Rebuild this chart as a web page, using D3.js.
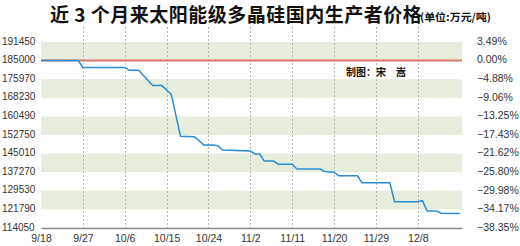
<!DOCTYPE html>
<html>
<head>
<meta charset="utf-8">
<script src="https://cdn.jsdelivr.net/npm/d3@7"></script>
<style>
  body { margin: 0; background: #fff; }
  svg text { font-family: "Liberation Sans", Arial, sans-serif; fill: #333; }
  .cjk { font-family: "Noto Sans CJK SC", sans-serif; font-weight: bold; fill: #111; }
</style>
</head>
<body>
<svg id="chart" width="520" height="246"></svg>
<script>
// prices in yuan/ton
const year = 2011;
const xTickLabels = ["9/18", "9/27", "10/6", "10/15", "10/24", "11/2", "11/11", "11/20", "11/29", "12/8"];
const yTickValues = [114050, 121790, 129530, 137270, 145010, 152750, 160490, 168230, 175970, 185000, 191450];
const pctLabels = ["−38.35%", "−34.17%", "−29.98%", "−25.80%", "−21.62%", "−17.43%", "−13.25%", "−9.06%", "−4.88%", "0.00%", "3.49%"];
const basePrice = 185000;
const priceDates = ["9/18", "9/26", "9/27", "10/6", "10/7", "10/9", "10/12", "10/14", "10/16", "10/18",
  "10/21", "10/23", "10/25", "10/26", "10/27", "11/2", "11/3", "11/4", "11/5", "11/7", "11/8",
  "11/11", "11/12", "11/17", "11/18", "11/20", "11/21", "11/25", "11/26", "12/2", "12/3",
  "12/8", "12/9", "12/10", "12/12", "12/13", "12/17"];
const prices = [185000, 185000, 181700, 181700, 180300, 180300, 173300, 173300, 169700, 152200,
  152000, 148600, 148600, 148300, 146500, 146100, 144850, 144850, 141900, 141900, 140550,
  140550, 138600, 138600, 137600, 137300, 135800, 135800, 132900, 132900, 125000,
  125000, 125400, 121100, 121100, 120200, 120100];

const parseDay = s => {
  const [m, d] = s.split("/").map(Number);
  return new Date(year, m - 1, d);
};

const margin = {top: 42, right: 58, bottom: 18, left: 41};
const width = 520 - margin.left - margin.right;
const height = 246 - margin.top - margin.bottom;

const svg = d3.select("#chart");
const g = svg.append("g").attr("transform", `translate(${margin.left},${margin.top})`);

const x = d3.scaleTime()
  .domain([parseDay("9/18"), new Date(year, 11, 17, 12)])
  .range([0, width]);

// ticks are evenly spaced on the chart, so the scale is piecewise
const step = height / (yTickValues.length - 1);
const y = d3.scaleLinear()
  .domain(yTickValues)
  .range(yTickValues.map((d, i) => height - i * step));

// alternating green bands
const bands = d3.range(1, yTickValues.length - 1, 2);
g.selectAll(".band")
  .data(bands)
  .enter()
  .append("rect")
  .attr("x", 0)
  .attr("width", width)
  .attr("y", i => y(yTickValues[i + 1]))
  .attr("height", i => y(yTickValues[i]) - y(yTickValues[i + 1]))
  .attr("fill", "#e7eddc");

// dashed verticals at the date ticks
const tickDates = xTickLabels.map(parseDay);
g.selectAll(".vline")
  .data(tickDates.slice(1))
  .enter()
  .append("line")
  .attr("x1", d => Math.round(x(d)) + 0.5)
  .attr("x2", d => Math.round(x(d)) + 0.5)
  .attr("y1", -15)
  .attr("y2", height)
  .attr("stroke", "#b5b5b5")
  .attr("stroke-dasharray", "2,2");

// reference line at the starting price
g.append("line")
  .attr("x1", 0)
  .attr("x2", width)
  .attr("y1", y(basePrice))
  .attr("y2", y(basePrice))
  .attr("stroke", "#d9776d")
  .attr("stroke-width", 2);

// bottom axis
const xAxis = g.append("g")
  .attr("transform", `translate(0,${height})`)
  .call(d3.axisBottom(x)
    .tickValues(tickDates)
    .tickFormat((d, i) => xTickLabels[i])
    .tickSize(0)
    .tickPadding(7));
xAxis.select(".domain").attr("stroke", "#8a8a8a").attr("stroke-width", 1.5);
xAxis.selectAll("text")
  .style("font-family", '"Liberation Sans", Arial, sans-serif')
  .style("font-size", "10.5px")
  .attr("fill", "#333");

// left price labels
g.selectAll(".ylab")
  .data(yTickValues)
  .enter()
  .append("text")
  .attr("x", 2 - margin.left)
  .attr("y", d => y(d) + 2.6)
  .style("font-size", "10px")
  .text(d => d);

// right percent labels
g.selectAll(".plab")
  .data(yTickValues)
  .enter()
  .append("text")
  .attr("x", width + 15)
  .attr("y", d => y(d) + 2.8)
  .style("font-size", "10.5px")
  .text((d, i) => pctLabels[i]);

// price line
const series = priceDates.map((d, i) => ({date: parseDay(d), price: prices[i]}));
g.append("path")
  .datum(series)
  .attr("fill", "none")
  .attr("stroke", "#2a8bd0")
  .attr("stroke-width", 1.5)
  .attr("d", d3.line().x(d => x(d.date)).y(d => y(d.price)));

// credit
g.append("text")
  .attr("class", "cjk")
  .attr("x", 346 - margin.left)
  .attr("y", 76 - margin.top)
  .style("font-size", "10px")
  .text("制图：宋　嵩");

// title
svg.append("text")
  .attr("class", "cjk")
  .attr("x", 50)
  .attr("y", 22.2)
  .style("font-size", "19px")
  .style("letter-spacing", "0.5px")
  .text("近 3 个月来太阳能级多晶硅国内生产者价格");
svg.append("text")
  .attr("class", "cjk")
  .attr("x", 420)
  .attr("y", 21)
  .attr("textLength", 71)
  .attr("lengthAdjust", "spacingAndGlyphs")
  .style("font-size", "10.5px")
  .text("(单位:万元/吨)");
</script>
</body>
</html>
